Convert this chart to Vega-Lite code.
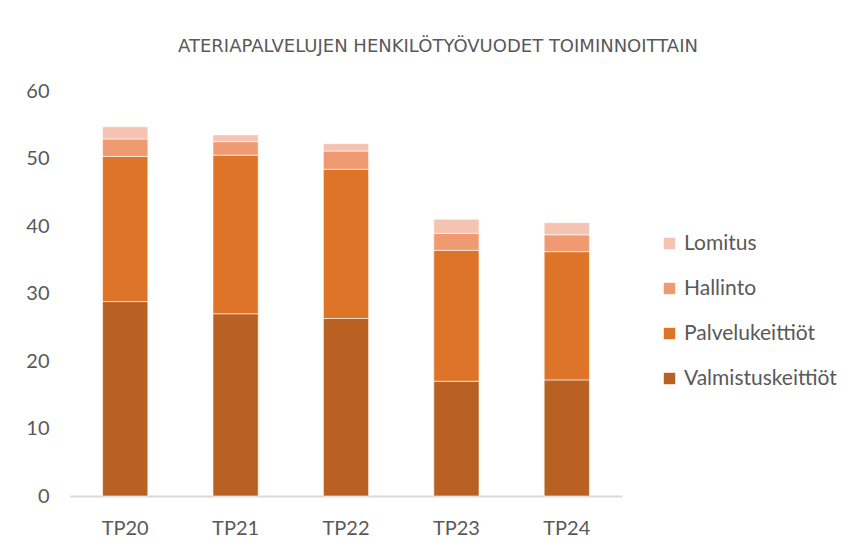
{
  "$schema": "https://vega.github.io/schema/vega-lite/v6.json",
  "width": 552,
  "height": 405,
  "autosize": "none",
  "padding": {"left": 70, "top": 91, "right": 236, "bottom": 56},
  "background": "white",
  "title": {
    "text": "ATERIAPALVELUJEN HENKILÖTYÖVUODET TOIMINNOITTAIN",
    "font": "DejaVu Sans",
    "fontSize": 18,
    "fontWeight": "normal",
    "color": "#595959",
    "anchor": "middle",
    "dx": 92,
    "offset": 25
  },
  "data": {
    "values": [
      {"tp": "TP20", "toiminto": "Valmistuskeittiöt", "n": 1, "v": 28.8},
      {"tp": "TP20", "toiminto": "Palvelukeittiöt", "n": 2, "v": 21.5},
      {"tp": "TP20", "toiminto": "Hallinto", "n": 3, "v": 2.6},
      {"tp": "TP20", "toiminto": "Lomitus", "n": 4, "v": 1.8},
      {"tp": "TP21", "toiminto": "Valmistuskeittiöt", "n": 1, "v": 27.0},
      {"tp": "TP21", "toiminto": "Palvelukeittiöt", "n": 2, "v": 23.5},
      {"tp": "TP21", "toiminto": "Hallinto", "n": 3, "v": 2.0},
      {"tp": "TP21", "toiminto": "Lomitus", "n": 4, "v": 1.0},
      {"tp": "TP22", "toiminto": "Valmistuskeittiöt", "n": 1, "v": 26.3},
      {"tp": "TP22", "toiminto": "Palvelukeittiöt", "n": 2, "v": 22.1},
      {"tp": "TP22", "toiminto": "Hallinto", "n": 3, "v": 2.7},
      {"tp": "TP22", "toiminto": "Lomitus", "n": 4, "v": 1.1},
      {"tp": "TP23", "toiminto": "Valmistuskeittiöt", "n": 1, "v": 17.0},
      {"tp": "TP23", "toiminto": "Palvelukeittiöt", "n": 2, "v": 19.4},
      {"tp": "TP23", "toiminto": "Hallinto", "n": 3, "v": 2.5},
      {"tp": "TP23", "toiminto": "Lomitus", "n": 4, "v": 2.1},
      {"tp": "TP24", "toiminto": "Valmistuskeittiöt", "n": 1, "v": 17.2},
      {"tp": "TP24", "toiminto": "Palvelukeittiöt", "n": 2, "v": 19.0},
      {"tp": "TP24", "toiminto": "Hallinto", "n": 3, "v": 2.5},
      {"tp": "TP24", "toiminto": "Lomitus", "n": 4, "v": 1.8}
    ]
  },
  "mark": {"type": "bar", "stroke": "white", "strokeWidth": 1, "strokeOpacity": 0.6},
  "encoding": {
    "x": {
      "field": "tp",
      "type": "nominal",
      "title": null,
      "scale": {"paddingInner": 0.59, "paddingOuter": 0.295},
      "axis": {
        "labelAngle": 0,
        "labelFont": "Lato",
        "labelFontSize": 20,
        "labelColor": "#595959",
        "labelPadding": 22,
        "ticks": false,
        "domainColor": "#D9D9D9",
        "domainWidth": 2,
        "grid": false
      }
    },
    "y": {
      "field": "v",
      "type": "quantitative",
      "title": null,
      "stack": "zero",
      "scale": {"domain": [0, 60], "nice": false},
      "axis": {
        "values": [0, 10, 20, 30, 40, 50, 60],
        "labelFont": "Lato",
        "labelFontSize": 20,
        "labelColor": "#595959",
        "labelPadding": 21,
        "ticks": false,
        "domain": false,
        "grid": false
      }
    },
    "order": {"field": "n", "type": "quantitative", "sort": "ascending"},
    "color": {
      "field": "toiminto",
      "type": "nominal",
      "scale": {
        "domain": ["Lomitus", "Hallinto", "Palvelukeittiöt", "Valmistuskeittiöt"],
        "range": ["#F5C3B1", "#F09A71", "#DE7428", "#B96023"]
      },
      "legend": {
        "title": null,
        "orient": "none",
        "legendX": 589,
        "legendY": 142,
        "symbolType": "square",
        "symbolSize": 130,
        "symbolStrokeWidth": 0,
        "labelFont": "Lato",
        "labelFontSize": 21,
        "labelColor": "#595959",
        "labelOffset": 4,
        "rowPadding": 23
      }
    }
  },
  "config": {"view": {"stroke": null}}
}
